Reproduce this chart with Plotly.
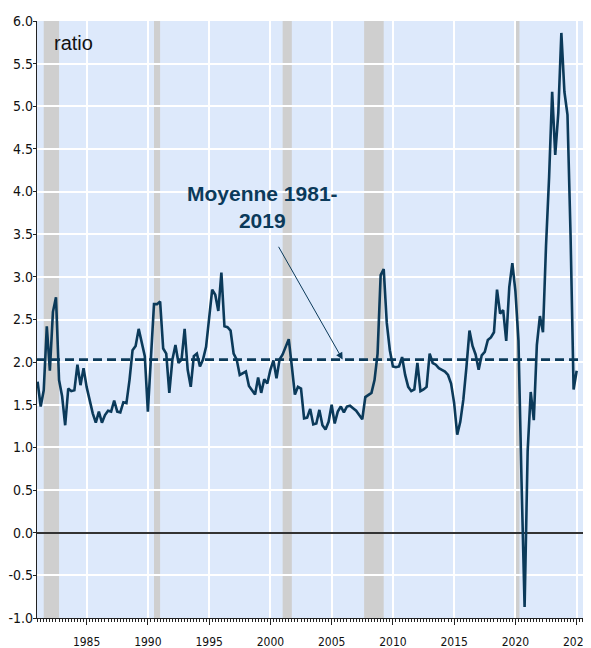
import plotly.graph_objects as go

# ---- data (quarterly ratio, 1981Q1 .. 2025Q1) ----
start_year = 1981
values = [
    1.77, 1.48, 1.67, 2.42,   # 1981
    1.90, 2.59, 2.76, 1.79,   # 1982
    1.60, 1.26, 1.69, 1.66,   # 1983
    1.67, 1.97, 1.73, 1.93,   # 1984
    1.71, 1.56, 1.40, 1.29,   # 1985
    1.42, 1.29, 1.38, 1.43,   # 1986
    1.42, 1.55, 1.42, 1.41,   # 1987
    1.53, 1.52, 1.79, 2.14,   # 1988
    2.19, 2.39, 2.22, 2.07,   # 1989
    1.42, 2.03, 2.68, 2.68,   # 1990
    2.71, 2.16, 2.10, 1.64,   # 1991
    2.03, 2.20, 1.99, 2.03,   # 1992
    2.39, 1.91, 1.71, 2.07,   # 1993
    2.10, 1.95, 2.03, 2.18,   # 1994
    2.50, 2.85, 2.79, 2.60,   # 1995
    3.05, 2.42, 2.41, 2.37,   # 1996
    2.10, 2.03, 1.85, 1.87,   # 1997
    1.89, 1.72, 1.67, 1.62,   # 1998
    1.82, 1.64, 1.80, 1.75,   # 1999
    1.91, 2.02, 1.81, 2.03,   # 2000
    2.09, 2.19, 2.27, 1.95,   # 2001
    1.62, 1.71, 1.69, 1.34,   # 2002
    1.35, 1.45, 1.27, 1.28,   # 2003
    1.44, 1.26, 1.21, 1.30,   # 2004
    1.50, 1.28, 1.42, 1.48,   # 2005
    1.41, 1.48, 1.49, 1.46,   # 2006
    1.43, 1.38, 1.33, 1.59,   # 2007
    1.62, 1.64, 1.79, 2.10,   # 2008
    3.02, 3.09, 2.46, 2.14,   # 2009
    1.95, 1.94, 1.95, 2.06,   # 2010
    1.85, 1.71, 1.66, 1.68,   # 2011
    1.99, 1.66, 1.68, 1.71,   # 2012
    2.10, 1.99, 1.97, 1.93,   # 2013
    1.91, 1.89, 1.85, 1.75,   # 2014
    1.52, 1.15, 1.30, 1.56,   # 2015
    1.94, 2.37, 2.19, 2.09,   # 2016
    1.91, 2.08, 2.12, 2.26,   # 2017
    2.29, 2.35, 2.85, 2.57,   # 2018
    2.61, 2.25, 2.88, 3.16,   # 2019
    2.83, 2.25, 0.60, -0.87,  # 2020
    0.96, 1.65, 1.32, 2.20,   # 2021
    2.54, 2.35, 3.37, 4.17,   # 2022
    5.17, 4.43, 4.92, 5.86,   # 2023
    5.17, 4.90, 3.50, 1.68,   # 2024
    1.90,                     # 2025
]
mean_1981_2019 = 2.03
mean_label = "<b>Moyenne 1981-</b><br><b>2019</b>"
y_title = "ratio"

# recession periods (start, end) in decimal years
recessions = [(1981.5, 1982.75), (1990.5, 1991.0), (2001.0, 2001.75),
              (2007.65, 2009.25), (2020.0, 2020.33)]

tick_years = [1985, 1990, 1995, 2000, 2005, 2010, 2015, 2020, 2025]
y_ticks = [-1.0, -0.5, 0.0, 0.5, 1.0, 1.5, 2.0, 2.5, 3.0, 3.5, 4.0, 4.5, 5.0, 5.5, 6.0]

x_dates = [start_year + i / 4 for i in range(len(values))]
x_range = [1980.95, 2026.17]

NAVY = "#0b3a5a"
NARROW = "Liberation Sans Narrow, Arial Narrow, DejaVu Sans Condensed, sans-serif"
SANS = "Liberation Sans, Arial, sans-serif"

fig = go.Figure()

fig.add_trace(go.Scatter(
    x=x_range, y=[mean_1981_2019, mean_1981_2019], mode="lines",
    line=dict(color=NAVY, width=2.7, dash="9px,5px"), hoverinfo="skip",
    showlegend=False))

fig.add_trace(go.Scatter(
    x=x_dates, y=values, mode="lines",
    line=dict(color=NAVY, width=2.6), showlegend=False))

for a, b in recessions:
    fig.add_shape(type="rect", xref="x", yref="paper", x0=a, x1=b, y0=0, y1=1,
                  fillcolor="#cfcfcf", line=dict(width=0), layer="below")

fig.add_annotation(x=1982.15, y=5.74, xref="x", yref="y", text=y_title,
                   showarrow=False, xanchor="left", yanchor="middle",
                   font=dict(family=SANS, size=20, color="#111"))

fig.add_annotation(x=1999.35, y=3.82, xref="x", yref="y", text=mean_label,
                   showarrow=False, xanchor="center", yanchor="middle",
                   font=dict(family=SANS, size=21, color=NAVY), align="center")

fig.add_annotation(x=2005.9, y=mean_1981_2019, ax=2000.6, ay=3.37,
                   xref="x", yref="y", axref="x", ayref="y", text="",
                   showarrow=True, arrowhead=2, arrowsize=1.4, arrowwidth=1,
                   arrowcolor=NAVY)

# page body has an 8px margin: figure is sized/offset to fill the 591x648 window
fig.update_layout(
    width=583, height=640,
    margin=dict(l=29, r=0, t=13, b=30, autoexpand=False),
    paper_bgcolor="white", plot_bgcolor="#dde9fb",
    showlegend=False,
    font=dict(family=NARROW, size=14, color="#111"),
)

fig.update_xaxes(
    range=x_range, tickvals=tick_years, ticktext=[str(t) for t in tick_years],
    automargin=False, ticklabeloverflow="allow",
    showgrid=True, gridcolor="white", gridwidth=1.5,
    ticks="outside", ticklen=6, tickcolor="#222", tickwidth=1,
    minor=dict(dtick=0.25, tick0=1981, ticks="outside", ticklen=3,
               tickcolor="#222", tickwidth=1, showgrid=False),
    showline=True, linecolor="#222", linewidth=1.2,
    zeroline=False, ticklabelstandoff=6,
    tickfont=dict(family=NARROW, size=12, color="#111"),
)

fig.update_yaxes(
    range=[-1, 6], tickvals=y_ticks, ticktext=[f"{v:.1f}" for v in y_ticks],
    automargin=False, ticklabeloverflow="allow",
    showgrid=True, gridcolor="white", gridwidth=1.5,
    ticks="outside", ticklen=3, tickcolor="#222",
    showline=True, linecolor="#222", linewidth=1.2,
    zeroline=True, zerolinecolor="#333", zerolinewidth=1.5,
    ticklabelstandoff=-3,
    tickfont=dict(family=NARROW, size=14, color="#111"),
)

fig.write_html("out.html")
